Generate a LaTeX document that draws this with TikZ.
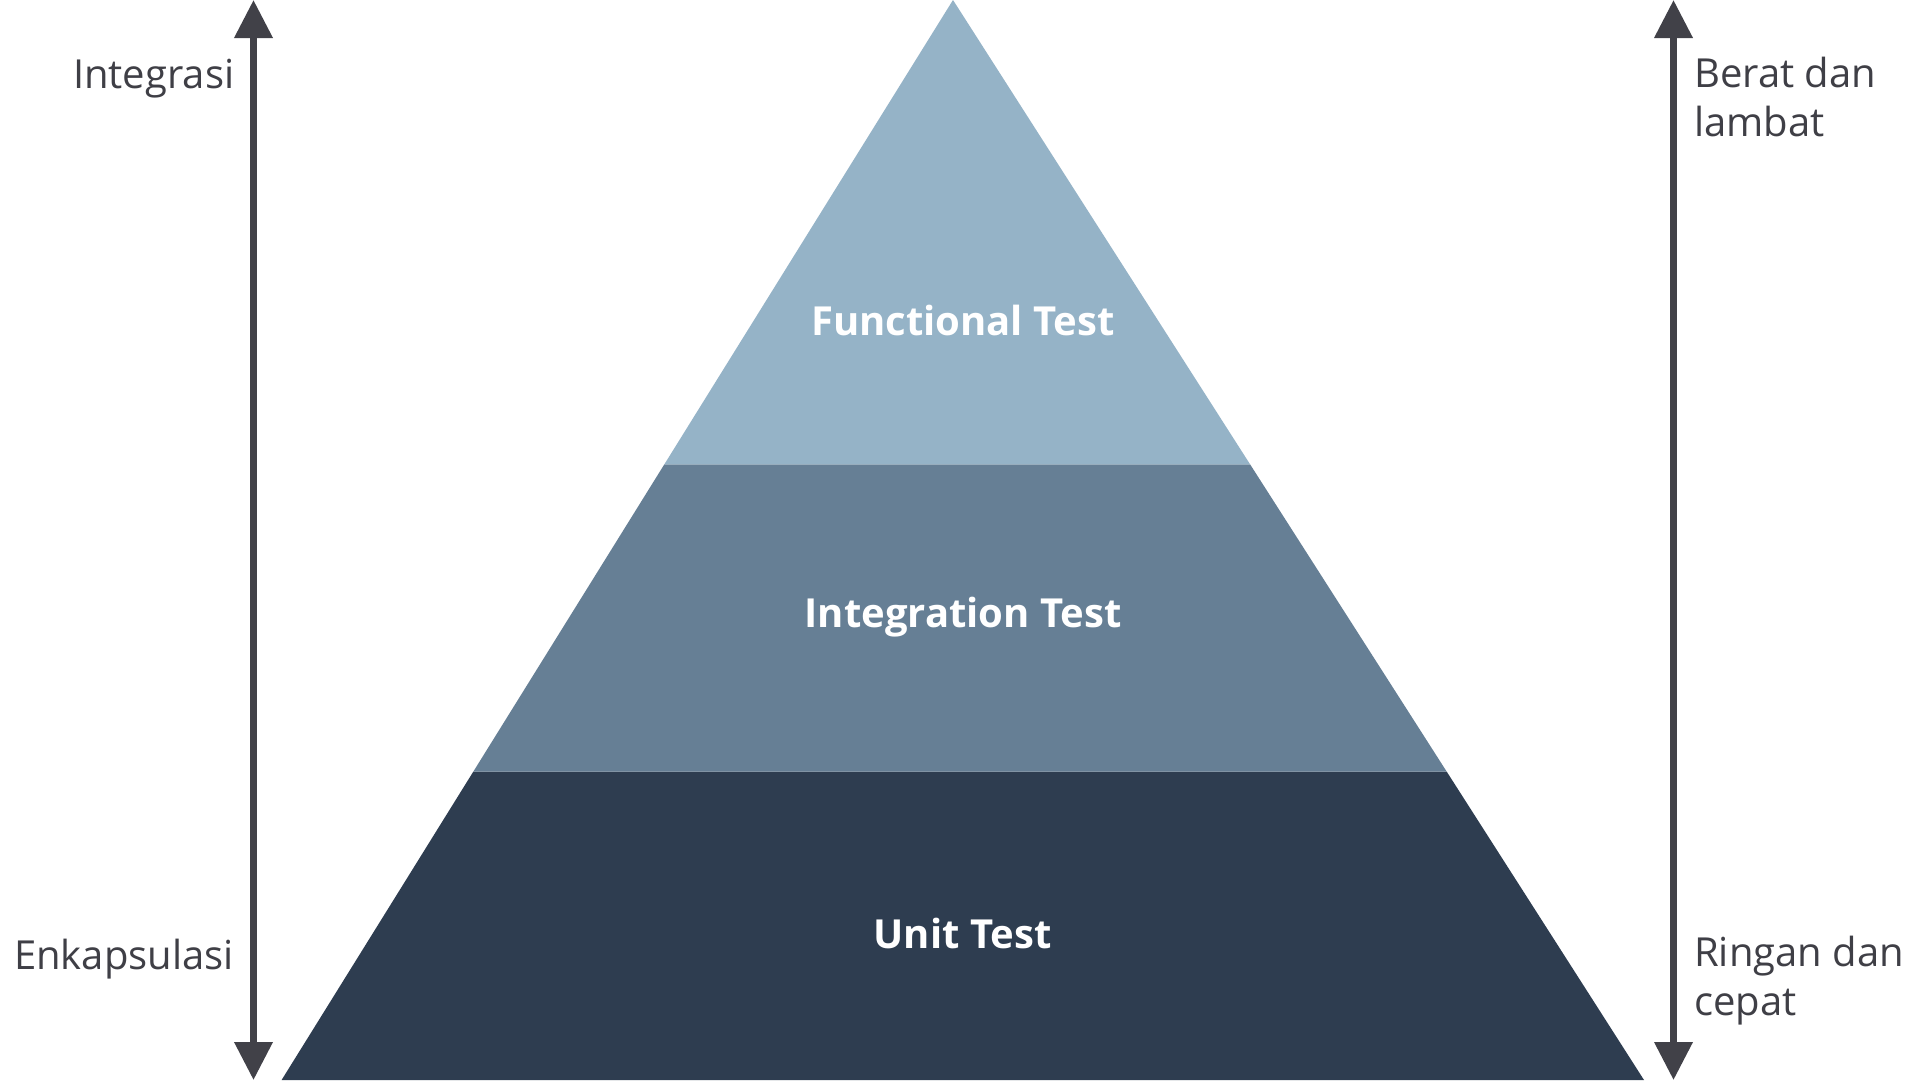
\documentclass[tikz,border=0pt]{standalone}
\usepackage{fontspec}
\setmainfont{Open Sans}
\usetikzlibrary{arrows.meta,calc}
\definecolor{topband}{HTML}{95B3C7}
\definecolor{midband}{HTML}{667F95}
\definecolor{botband}{HTML}{2E3D50}
\definecolor{arrowgray}{HTML}{414148}
\definecolor{labelgray}{HTML}{3F3F46}
\tikzset{
  sidelabel/.style={inner sep=0pt, text=labelgray, font=\fontsize{40}{50}\selectfont},
  bandlabel/.style={inner sep=0pt, text=white, anchor=base, font=\fontsize{40}{50}\selectfont\bfseries},
  axisarrow/.style={draw=arrowgray, line width=7pt, {Triangle[width=37pt,length=38pt]}-{Triangle[width=37pt,length=38pt]}},
}
\begin{document}
\begin{tikzpicture}[x=1pt,y=-1pt]
\useasboundingbox (0,0) rectangle (1920,1080);
\fill[white] (0,0) rectangle (1920,1080);
% pyramid
\coordinate (apex) at (953,0);
\coordinate (bl) at (281.6,1080);
\coordinate (br) at (1644,1080);
\fill[botband] (bl) -- (br) -- ($(apex)!771.5/1080!(br)$) -- ($(apex)!771.5/1080!(bl)$) -- cycle;
\fill[midband] ($(apex)!771.5/1080!(bl)$) -- ($(apex)!771.5/1080!(br)$) -- ($(apex)!464.3/1080!(br)$) -- ($(apex)!464.3/1080!(bl)$) -- cycle;
\fill[topband] ($(apex)!464.3/1080!(bl)$) -- ($(apex)!464.3/1080!(br)$) -- (apex) -- cycle;
% band labels
\node[bandlabel] (ft) at (963,335.5) {Functional Test};
\node[bandlabel] (it) at (963,627) {Integration Test};
\node[bandlabel] (ut) at (962.5,948.5) {Unit Test};
% axes
\coordinate (lt) at (253.5,0);
\coordinate (lb) at (253.5,1080);
\coordinate (rt) at (1673.5,0);
\coordinate (rb) at (1673.5,1080);
\draw[axisarrow] (lb) -- (lt);
\draw[axisarrow] (rb) -- (rt);
% side labels
\node[sidelabel, anchor=base east] (integ) at (234.5,88.5) {Integrasi};
\node[sidelabel, anchor=base east] (enk) at (234,969.5) {Enkapsulasi};
\node[sidelabel, anchor=base west] (berat1) at (1694,87) {Berat dan};
\node[sidelabel, anchor=base west] (berat2) at (1694,136.5) {lambat};
\node[sidelabel, anchor=base west] (ring1) at (1694,966) {Ringan dan};
\node[sidelabel, anchor=base west] (ring2) at (1694,1015.5) {cepat};
\end{tikzpicture}
\end{document}
